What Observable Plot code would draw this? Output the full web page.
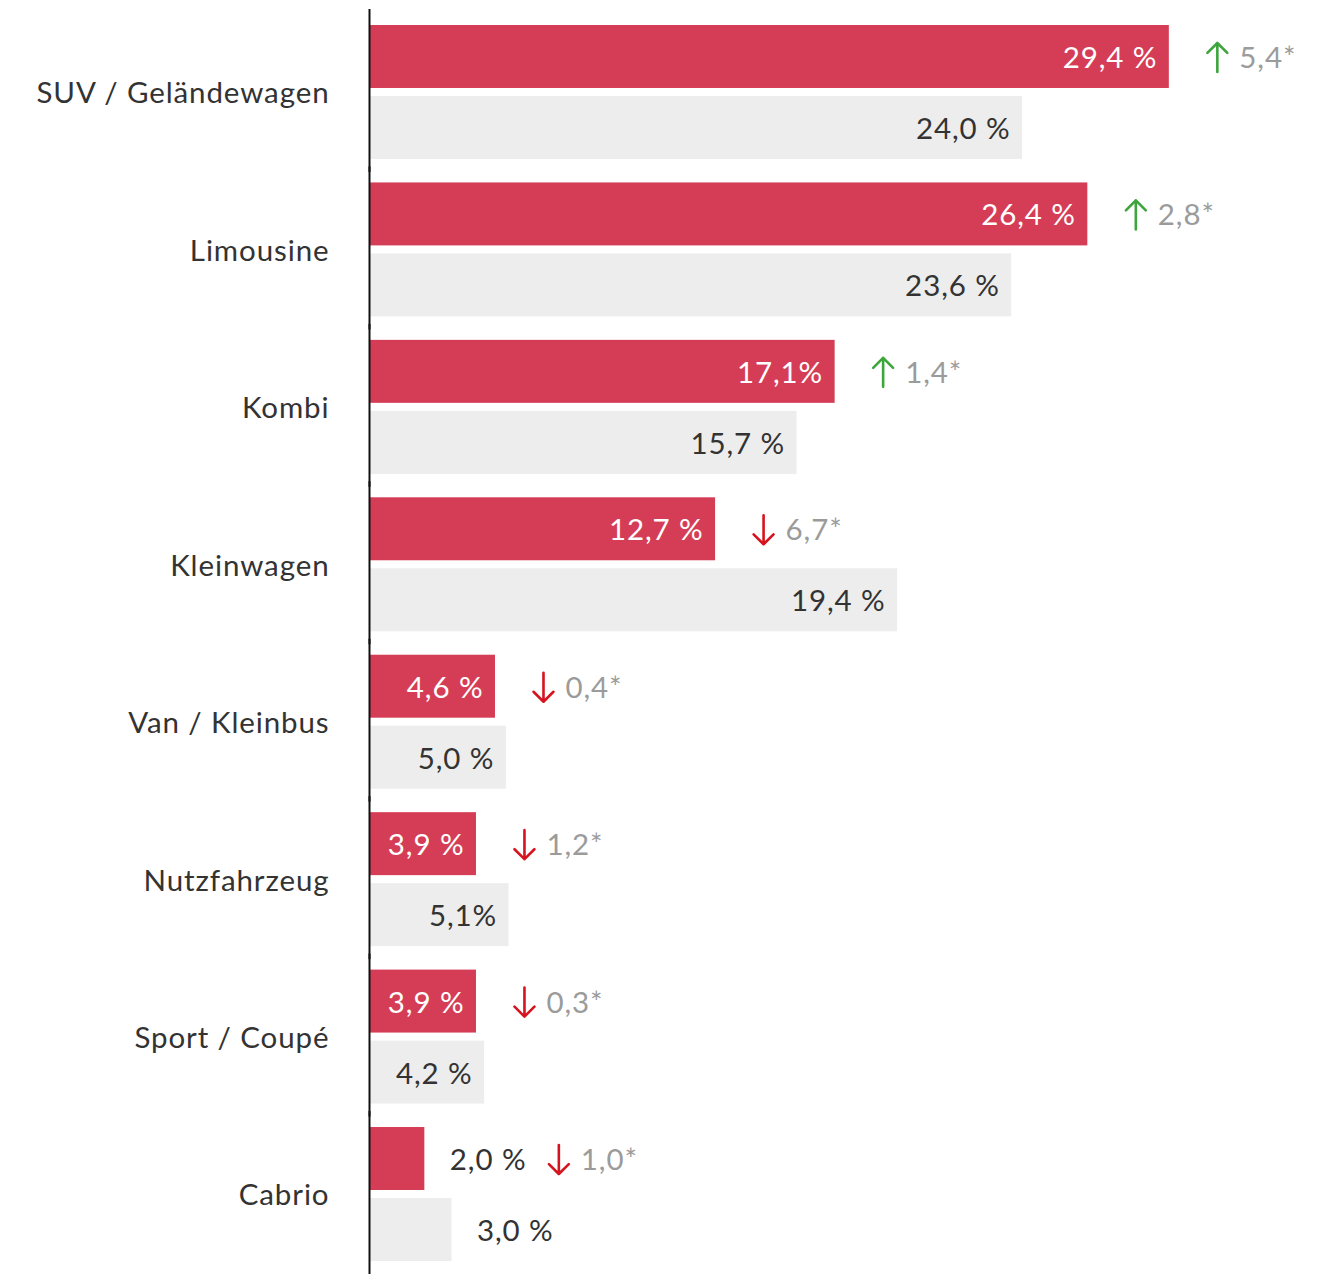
<!DOCTYPE html>
<html><head><meta charset="utf-8">
<script src="https://cdn.jsdelivr.net/npm/d3@7"></script>
<script src="https://cdn.jsdelivr.net/npm/@observablehq/plot@0.6"></script>
<style>body{margin:0;background:#fff}</style>
</head><body><div id="chart"></div>
<script>
const categories = ["SUV / Geländewagen","Limousine","Kombi","Kleinwagen","Van / Kleinbus","Nutzfahrzeug","Sport / Coupé","Cabrio"];
const current = [29.4,26.4,17.1,12.7,4.6,3.9,3.9,2.0];
const previous = [24.0,23.6,15.7,19.4,5.0,5.1,4.2,3.0];
const currentLabels = ["29,4 %","26,4 %","17,1%","12,7 %","4,6 %","3,9 %","3,9 %","2,0 %"];
const previousLabels = ["24,0 %","23,6 %","15,7 %","19,4 %","5,0 %","5,1%","4,2 %","3,0 %"];
const changes = ["5,4*","2,8*","1,4*","6,7*","0,4*","1,2*","0,3*","1,0*"];
const directions = ["up","up","up","down","down","down","down","down"];

const rows = categories.flatMap((c, i) => [
  {category: c, series: "current", value: current[i], label: currentLabels[i]},
  {category: c, series: "previous", value: previous[i], label: previousLabels[i]}
]);
const notes = categories.map((c, i) => ({category: c, series: "current", value: current[i], change: changes[i], dir: directions[i]}));
const isInside = d => d.value >= 3.5;
const FS = 29.5;
const DY = 1.5;

const chart = Plot.plot({
  width: 1325, height: 1274,
  marginTop: 25, marginBottom: 13, marginLeft: 370, marginRight: 4,
  style: {fontFamily: "Lato, sans-serif", background: "#fff", letterSpacing: "0.9px"},
  x: {domain: [0, 35], axis: null},
  y: {domain: ["current", "previous"], axis: null, paddingInner: 0.113, paddingOuter: 0, round: false},
  fy: {domain: categories, paddingInner: 0.149, paddingOuter: 0, label: null, round: false},
  color: {domain: ["up", "down"], range: ["#3ca63c", "#d6141f"]},
  marks: [
    Plot.barX(rows.filter(d => d.series === "current"), {x: "value", y: "series", fy: "category", fill: "#d53d56"}),
    Plot.barX(rows.filter(d => d.series === "previous"), {x: "value", y: "series", fy: "category", fill: "#ededed"}),
    Plot.ruleX([0], {stroke: "#111", strokeWidth: 2, dx: -1, insetTop: -16, insetBottom: -13}),
    Plot.axisFy({anchor: "left", tickSize: 0, tickPadding: 41, fontSize: FS, color: "#333", label: null, dy: DY}),
    Plot.text(rows.filter(d => isInside(d) && d.series === "current"), {x: "value", y: "series", fy: "category", text: "label", textAnchor: "end", dx: -12, dy: DY, fill: "white", fontSize: FS}),
    Plot.text(rows.filter(d => isInside(d) && d.series === "previous"), {x: "value", y: "series", fy: "category", text: "label", textAnchor: "end", dx: -12, dy: DY, fill: "#333", fontSize: FS}),
    Plot.text(rows.filter(d => !isInside(d)), {x: "value", y: "series", fy: "category", text: "label", textAnchor: "start", dx: 25, dy: DY, fill: "#333", fontSize: FS}),
    Plot.vector(notes.filter(isInside), {x: "value", y: "series", fy: "category", length: 29, r: 6, rotate: d => d.dir === "up" ? 0 : 180, stroke: "dir", strokeWidth: 2.6, anchor: "middle", dx: 48, dy: 0.5}),
    Plot.text(notes.filter(isInside), {x: "value", y: "series", fy: "category", text: "change", textAnchor: "start", dx: 70, dy: DY, fill: "#9b9b9b", fontSize: FS}),
    Plot.vector(notes.filter(d => !isInside(d)), {x: "value", y: "series", fy: "category", length: 29, r: 6, rotate: d => d.dir === "up" ? 0 : 180, stroke: "dir", strokeWidth: 2.6, anchor: "middle", dx: 134, dy: 0.5}),
    Plot.text(notes.filter(d => !isInside(d)), {x: "value", y: "series", fy: "category", text: "change", textAnchor: "start", dx: 156, dy: DY, fill: "#9b9b9b", fontSize: FS})
  ]
});
document.getElementById("chart").appendChild(chart);
</script>
</body></html>
